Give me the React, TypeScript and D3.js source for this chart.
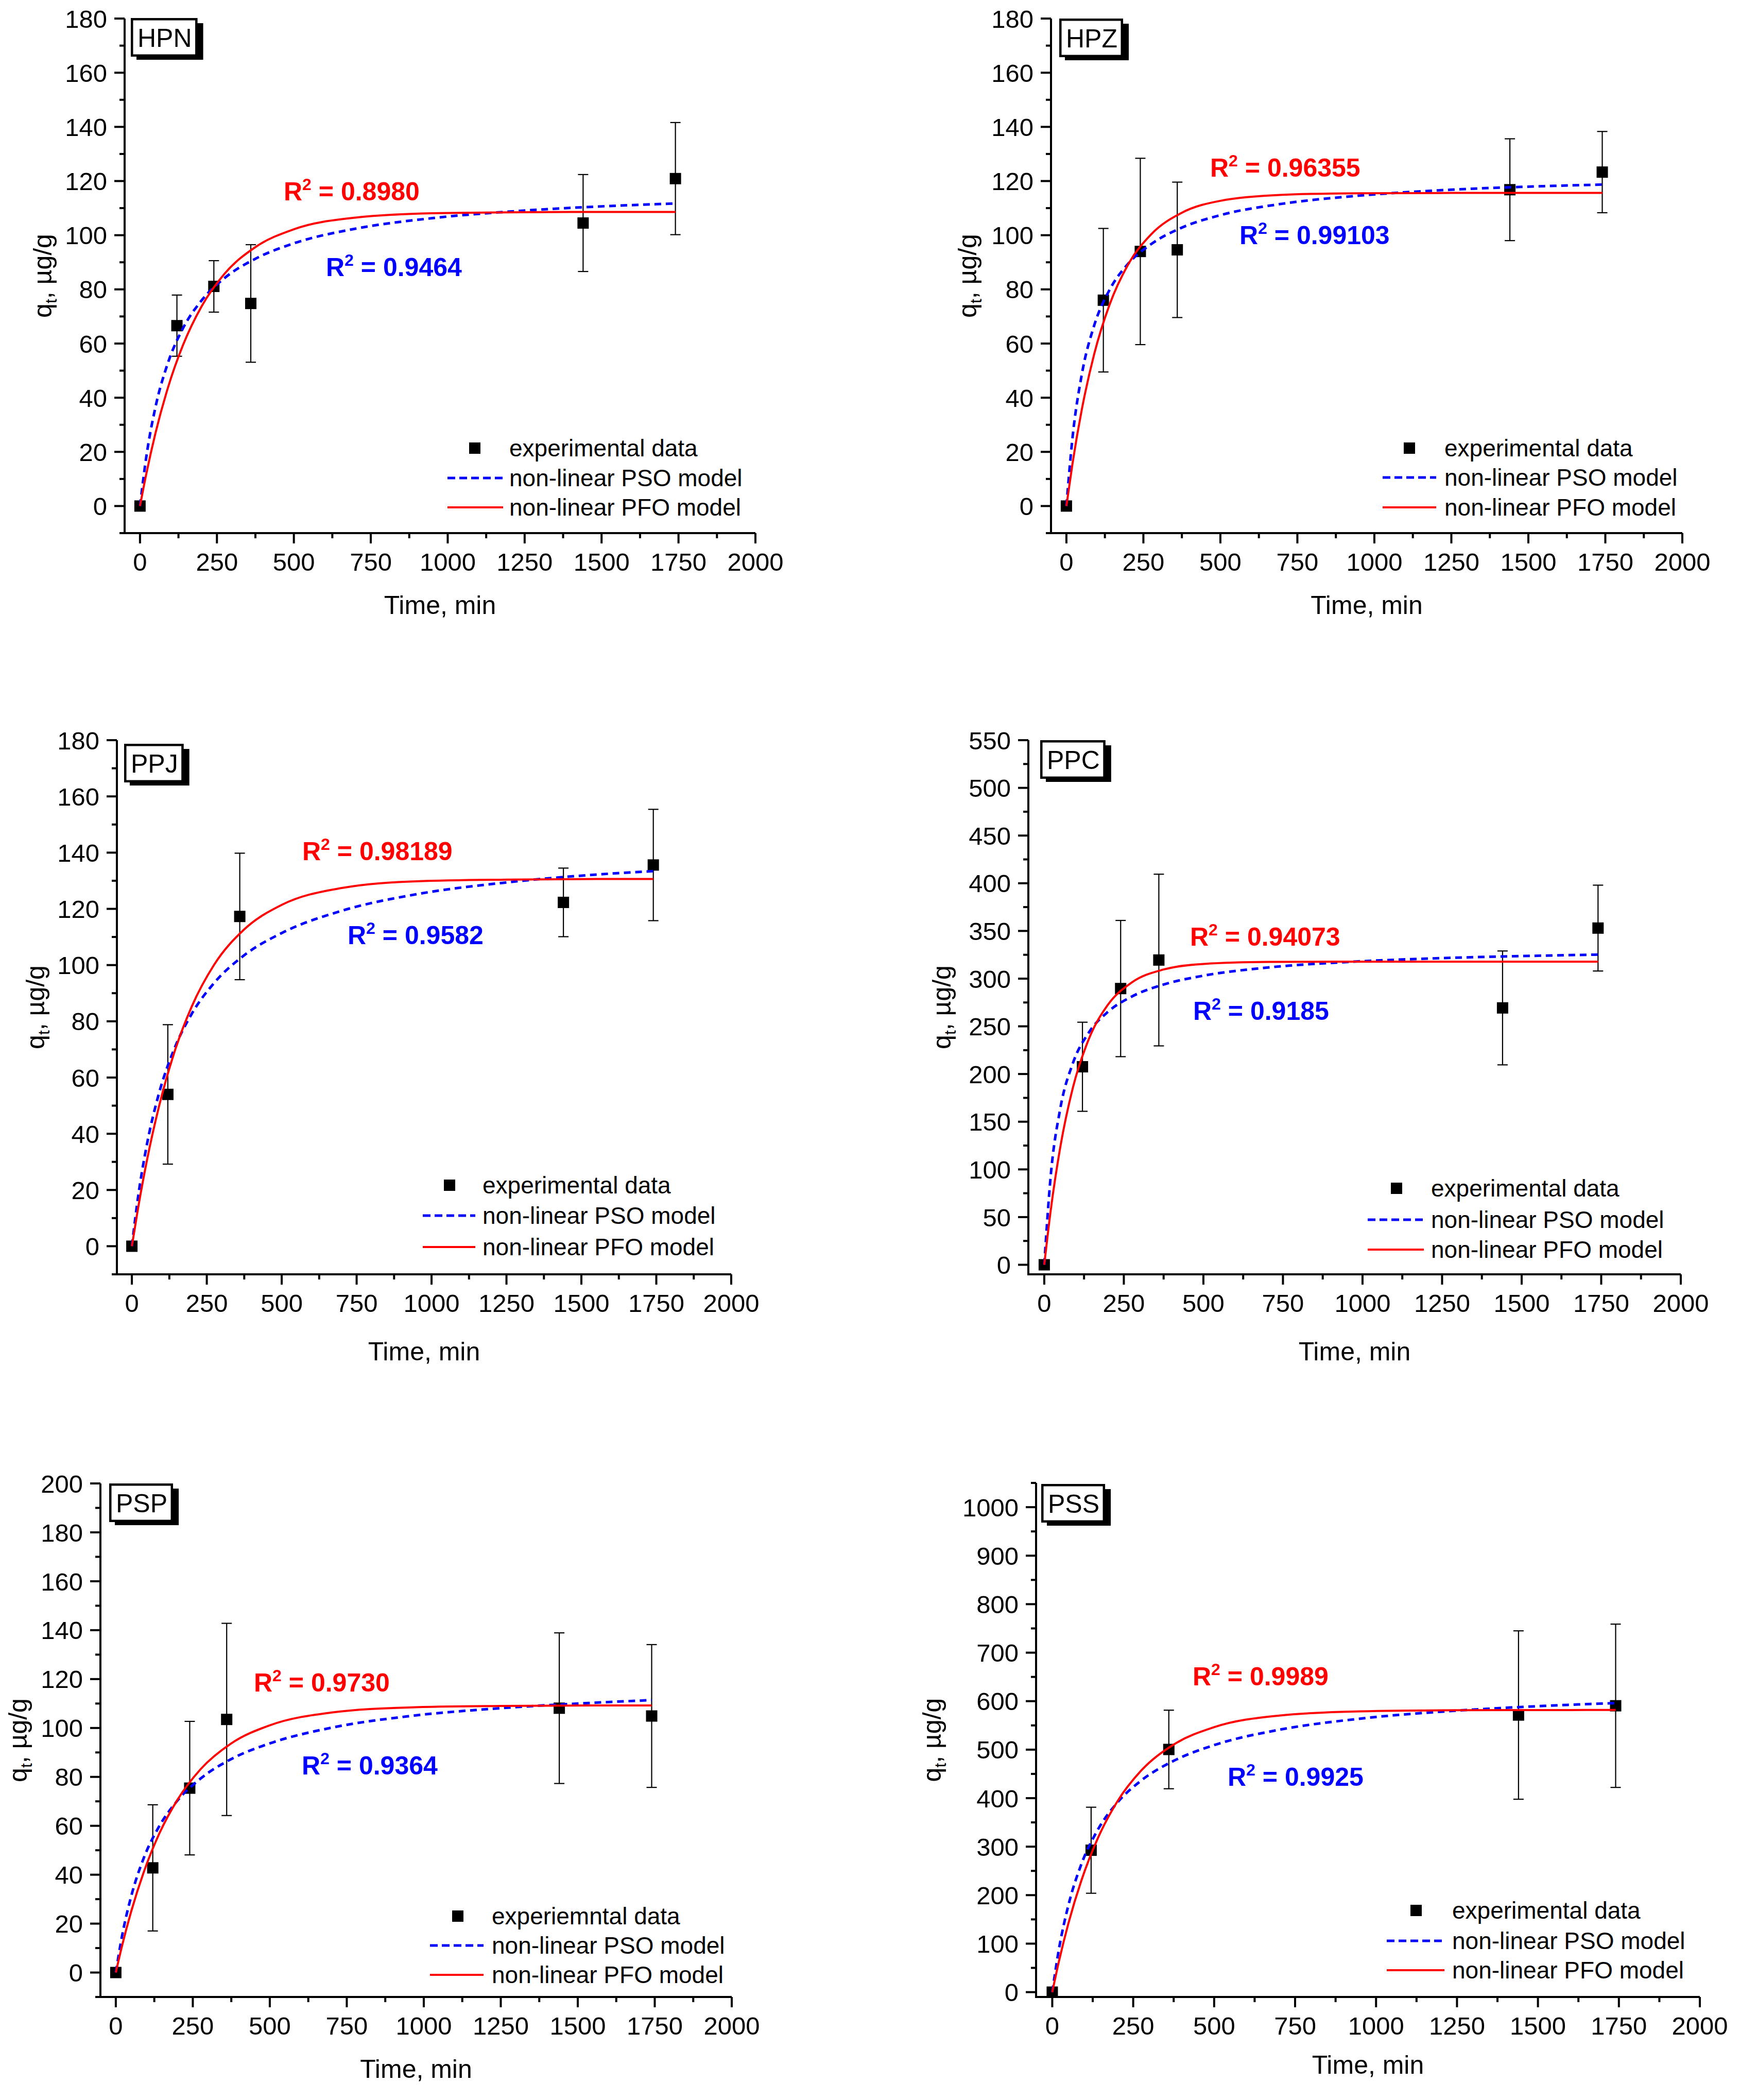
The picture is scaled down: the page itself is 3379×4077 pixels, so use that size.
import * as d3 from "d3";
import React, { useEffect, useRef } from "react";

const WIDTH = 3379;
const HEIGHT = 4077;
const FONT = "'Liberation Sans', Arial, sans-serif";
const RED = "#ff0000";
const BLUE = "#0000ff";

// experimental points (time in min, q in ug/g, sd)
const hpnTime = [0, 120, 240, 360, 1440, 1740];
const hpnQ = [0, 66.6, 81.1, 74.8, 104.5, 120.9];
const hpnErr = [0, 11.3, 9.5, 21.7, 17.9, 20.7];

const hpzTime = [0, 120, 240, 360, 1440, 1740];
const hpzQ = [0, 76.0, 94.0, 94.6, 116.8, 123.3];
const hpzErr = [0, 26.5, 34.4, 25.0, 18.8, 15.0];

const ppjTime = [0, 120, 360, 1440, 1740];
const ppjQ = [0, 54.0, 117.3, 122.3, 135.6];
const ppjErr = [0, 24.8, 22.5, 12.2, 19.8];

const ppcTime = [0, 120, 240, 360, 1440, 1740];
const ppcQ = [0, 207.6, 289.6, 319.5, 269.3, 353.0];
const ppcErr = [0, 46.7, 71.4, 90.0, 59.7, 45.0];

const pspTime = [0, 120, 240, 360, 1440, 1740];
const pspQ = [0, 42.8, 75.4, 103.5, 108.1, 104.9];
const pspErr = [0, 25.8, 27.3, 39.3, 30.8, 29.2];

const pssTime = [0, 120, 360, 1440, 1740];
const pssQ = [0, 292.6, 500.4, 571.4, 590.5];
const pssErr = [0, 88.7, 81.0, 173.6, 168.4];

// fitted model curves
const curveTime = [0, 20, 50, 90, 140, 200, 275, 375, 500, 700, 950, 1250, 1550, 1740];
const hpnPfo = [0, 11.6, 26.8, 43.4, 59.5, 73.7, 85.8, 95.6, 102.2, 106.5, 108.1, 108.5, 108.6, 108.6];
const hpnPso = [0, 17.8, 36.4, 52.6, 65.7, 75.9, 84.2, 91.3, 97.0, 102.4, 106.3, 109.1, 110.9, 111.7];
const hpzPfo = [0, 15.8, 35.6, 56.0, 74.3, 89.1, 100.3, 108.3, 112.7, 114.9, 115.5, 115.6, 115.6, 115.6];
const hpzPso = [0, 25.4, 48.6, 66.6, 79.8, 89.4, 96.7, 102.8, 107.4, 111.6, 114.6, 116.8, 118.1, 118.7];
const ppjPfo = [0, 13.1, 30.4, 49.5, 68.4, 85.3, 100.2, 112.7, 121.4, 127.4, 129.8, 130.4, 130.6, 130.6];
const ppjPso = [0, 17.0, 36.1, 54.2, 69.8, 82.7, 93.7, 103.5, 111.4, 119.3, 125.2, 129.4, 132.2, 133.4];
const ppcPfo = [0, 56.3, 122.6, 185.7, 236.6, 272.6, 296.0, 309.6, 315.4, 317.5, 317.8, 317.8, 317.8, 317.8];
const ppcPso = [0, 92.2, 163.2, 211.4, 243.5, 265.2, 281.2, 293.8, 303.1, 311.6, 317.4, 321.5, 324.0, 325.2];
const pspPfo = [0, 10.8, 25.0, 40.8, 56.5, 70.6, 83.1, 93.7, 101.1, 106.3, 108.4, 109.0, 109.2, 109.2];
const pspPso = [0, 14.8, 31.2, 46.6, 59.6, 70.3, 79.3, 87.3, 93.7, 100.1, 104.8, 108.1, 110.3, 111.4];
const pssPfo = [0, 61.7, 142.1, 230.3, 316.2, 392.0, 457.1, 510.5, 546.4, 570.3, 579.0, 581.3, 581.7, 581.8];
const pssPso = [0, 86.4, 179.6, 264.0, 334.1, 390.0, 436.5, 476.9, 509.4, 540.9, 563.9, 580.5, 591.1, 596.1];

const panelNames = ["HPN", "HPZ", "PPJ", "PPC", "PSP", "PSS"];
const r2Pfo = ["0.8980", "0.96355", "0.98189", "0.94073", "0.9730", "0.9989"];
const r2Pso = ["0.9464", "0.99103", "0.9582", "0.9185", "0.9364", "0.9925"];
const yMaxes = [180, 180, 180, 550, 200, 1050];
const yMajorSteps = [20, 20, 20, 50, 20, 100];
const yTopLabels = [180, 180, 180, 550, 200, 1000];
const legendFirst = ["experimental data", "experimental data", "experimental data", "experimental data", "experiemntal data", "experimental data"];
const xTicks = [0, 250, 500, 750, 1000, 1250, 1500, 1750, 2000];

interface Layout {
    left: number; right: number; top: number; bottom: number;
    yTitleX: number; xTitleY: number;
    boxX: number; boxY: number;
    markX: number; lineX1: number; lineX2: number; textX: number; rows: number[];
    redX: number; redY: number; blueX: number; blueY: number;
}

const layouts: Layout[] = [
    { left: 242, right: 1467, top: 36, bottom: 1035, yTitleX: 87, xTitleY: 1192, boxX: 254, boxY: 35,
      markX: 922, lineX1: 869, lineX2: 977, textX: 989, rows: [870, 928, 985], redX: 551, redY: 371, blueX: 633, blueY: 518 },
    { left: 2041, right: 3267, top: 36, bottom: 1035, yTitleX: 1883, xTitleY: 1192, boxX: 2057, boxY: 36,
      markX: 2737, lineX1: 2685, lineX2: 2789, textX: 2805, rows: [870, 927, 985], redX: 2350, redY: 325, blueX: 2407, blueY: 456 },
    { left: 227, right: 1420, top: 1437, bottom: 2474, yTitleX: 73, xTitleY: 2641, boxX: 241, boxY: 1444,
      markX: 873, lineX1: 821, lineX2: 923, textX: 937, rows: [2301, 2360, 2421], redX: 587, redY: 1652, blueX: 675, blueY: 1815 },
    { left: 1997, right: 3264, top: 1437, bottom: 2474, yTitleX: 1833, xTitleY: 2641, boxX: 2020, boxY: 1437,
      markX: 2712, lineX1: 2656, lineX2: 2765, textX: 2779, rows: [2307, 2368, 2426], redX: 2311, redY: 1818, blueX: 2317, blueY: 1962 },
    { left: 195, right: 1421, top: 2880, bottom: 3877, yTitleX: 39, xTitleY: 4034, boxX: 212, boxY: 2880,
      markX: 889, lineX1: 835, lineX2: 939, textX: 955, rows: [3720, 3777, 3834], redX: 493, redY: 3266, blueX: 586, blueY: 3427 },
    { left: 2012, right: 3301, top: 2879, bottom: 3877, yTitleX: 1814, xTitleY: 4026, boxX: 2022, boxY: 2881,
      markX: 2750, lineX1: 2693, lineX2: 2805, textX: 2820, rows: [3709, 3768, 3825], redX: 2316, redY: 3254, blueX: 2384, blueY: 3449 },
];

const pointSets = [
    { time: hpnTime, q: hpnQ, err: hpnErr, pfo: hpnPfo, pso: hpnPso },
    { time: hpzTime, q: hpzQ, err: hpzErr, pfo: hpzPfo, pso: hpzPso },
    { time: ppjTime, q: ppjQ, err: ppjErr, pfo: ppjPfo, pso: ppjPso },
    { time: ppcTime, q: ppcQ, err: ppcErr, pfo: ppcPfo, pso: ppcPso },
    { time: pspTime, q: pspQ, err: pspErr, pfo: pspPfo, pso: pspPso },
    { time: pssTime, q: pssQ, err: pssErr, pfo: pssPfo, pso: pssPso },
];

function App() {
    const svgRef: any = useRef<any>(null);

    useEffect(() => {
        drawAll();
    }, []);

    const drawAll = () => {
        const svg = d3.select(svgRef.current);
        svg.selectAll("*").remove();
        svg.append("rect").attr("width", WIDTH).attr("height", HEIGHT).attr("fill", "#fff");

        panelNames.forEach((name, i) => {
            const L = layouts[i];
            const data = pointSets[i];
            const g = svg.append("g");

            const x = d3.scaleLinear().domain([-50, 2000]).range([L.left, L.right]);
            const y = d3.scaleLinear().domain([-10, yMaxes[i]]).range([L.bottom, L.top]);

            // error bars + squares
            data.time.forEach((t, j) => {
                const cx = x(t);
                const e = data.err[j];
                if (e > 0) {
                    const y1 = y(data.q[j] + e);
                    const y2 = y(data.q[j] - e);
                    g.append("line").attr("x1", cx).attr("x2", cx).attr("y1", y1).attr("y2", y2)
                        .attr("stroke", "#000").attr("stroke-width", 2.2);
                    [y1, y2].forEach(yy => {
                        g.append("line").attr("x1", cx - 10).attr("x2", cx + 10).attr("y1", yy).attr("y2", yy)
                            .attr("stroke", "#000").attr("stroke-width", 2.2);
                    });
                }
                g.append("rect").attr("x", cx - 11).attr("y", y(data.q[j]) - 11)
                    .attr("width", 22).attr("height", 22).attr("fill", "#000");
            });

            const line = d3.line<number>()
                .x((_, k) => x(curveTime[k]))
                .y(d => y(d))
                .curve(d3.curveMonotoneX);

            g.append("path").attr("d", line(data.pso)).attr("fill", "none")
                .attr("stroke", BLUE).attr("stroke-width", 5).attr("stroke-dasharray", "13,9");
            g.append("path").attr("d", line(data.pfo)).attr("fill", "none")
                .attr("stroke", RED).attr("stroke-width", 4);

            // axes
            const ax = g.append("g").attr("stroke", "#000").attr("stroke-width", 4);
            ax.append("path").attr("fill", "none")
                .attr("d", `M${L.left},${L.top}V${L.bottom}H${L.right}`);

            const majStep = yMajorSteps[i];
            const yMajor = d3.range(0, yMaxes[i] + 0.001, majStep);
            const yMinor = d3.range(Math.ceil(-10 / (majStep / 2)) * (majStep / 2), yMaxes[i] + 0.001, majStep / 2)
                .filter(v => Math.abs(v % majStep) > 0.001);
            yMajor.forEach(v => {
                ax.append("line").attr("x1", L.left - 20).attr("x2", L.left).attr("y1", y(v)).attr("y2", y(v));
            });
            yMinor.forEach(v => {
                ax.append("line").attr("x1", L.left - 10).attr("x2", L.left).attr("y1", y(v)).attr("y2", y(v));
            });
            xTicks.forEach(v => {
                ax.append("line").attr("x1", x(v)).attr("x2", x(v)).attr("y1", L.bottom).attr("y2", L.bottom + 20);
            });
            d3.range(125, 2000, 250).forEach(v => {
                ax.append("line").attr("x1", x(v)).attr("x2", x(v)).attr("y1", L.bottom).attr("y2", L.bottom + 10);
            });

            // tick labels
            yMajor.filter(v => v <= yTopLabels[i]).forEach(v => {
                g.append("text").attr("x", L.left - 34).attr("y", y(v)).attr("dy", "0.36em")
                    .attr("text-anchor", "end").attr("font-family", FONT).attr("font-size", 49)
                    .text(String(v));
            });
            xTicks.forEach(v => {
                g.append("text").attr("x", x(v)).attr("y", L.bottom + 73)
                    .attr("text-anchor", "middle").attr("font-family", FONT).attr("font-size", 49)
                    .text(String(v));
            });

            // axis titles
            g.append("text").attr("x", (L.left + L.right) / 2).attr("y", L.xTitleY)
                .attr("text-anchor", "middle").attr("font-family", FONT).attr("font-size", 50)
                .text("Time, min");

            const yc = (L.top + L.bottom) / 2;
            const yt = g.append("text")
                .attr("transform", `translate(${L.yTitleX + 13},${yc}) rotate(-90)`)
                .attr("text-anchor", "middle").attr("font-family", FONT).attr("font-size", 50);
            yt.append("tspan").text("q");
            yt.append("tspan").attr("font-size", 32).attr("dy", 10).text("t");
            yt.append("tspan").attr("dy", -10).text(", \u00b5g/g");

            // label box
            const boxText = g.append("text").attr("font-family", FONT).attr("font-size", 50)
                .attr("x", L.boxX + 13).attr("y", L.boxY + 56).text(name);
            const tw = (boxText.node() as SVGTextElement).getComputedTextLength();
            const bw = tw + 24;
            const bh = 75;
            g.insert("rect", () => boxText.node())
                .attr("x", L.boxX + 11).attr("y", L.boxY + 10).attr("width", bw).attr("height", bh - 4)
                .attr("fill", "#000");
            g.insert("rect", () => boxText.node())
                .attr("x", L.boxX + 2.25).attr("y", L.boxY + 2.25).attr("width", bw - 4.5).attr("height", bh - 4.5)
                .attr("fill", "#fff").attr("stroke", "#000").attr("stroke-width", 4.5);

            // R^2 labels
            const r2 = (xx: number, yy: number, val: string, col: string) => {
                const t = g.append("text").attr("x", xx).attr("y", yy + 18)
                    .attr("font-family", FONT).attr("font-size", 50).attr("font-weight", "bold").attr("fill", col);
                t.append("tspan").text("R");
                t.append("tspan").attr("font-size", 32).attr("dy", -20).text("2");
                t.append("tspan").attr("dy", 20).text(" = " + val);
            };
            r2(L.redX, L.redY, r2Pfo[i], RED);
            r2(L.blueX, L.blueY, r2Pso[i], BLUE);

            // legend
            g.append("rect").attr("x", L.markX - 11).attr("y", L.rows[0] - 11)
                .attr("width", 22).attr("height", 22).attr("fill", "#000");
            g.append("line").attr("x1", L.lineX1).attr("x2", L.lineX2).attr("y1", L.rows[1]).attr("y2", L.rows[1])
                .attr("stroke", BLUE).attr("stroke-width", 5).attr("stroke-dasharray", "15,8");
            g.append("line").attr("x1", L.lineX1).attr("x2", L.lineX2).attr("y1", L.rows[2]).attr("y2", L.rows[2])
                .attr("stroke", RED).attr("stroke-width", 4);
            [legendFirst[i], "non-linear PSO model", "non-linear PFO model"].forEach((s, k) => {
                g.append("text").attr("x", L.textX).attr("y", L.rows[k]).attr("dy", "0.34em")
                    .attr("font-family", FONT).attr("font-size", 46).text(s);
            });
        });
    };

    return (
        <svg
            ref={svgRef}
            width={WIDTH}
            height={HEIGHT}
            style={{ position: "absolute", left: 0, top: 0, background: "#fff" }}
        />
    );
}

export default App;
